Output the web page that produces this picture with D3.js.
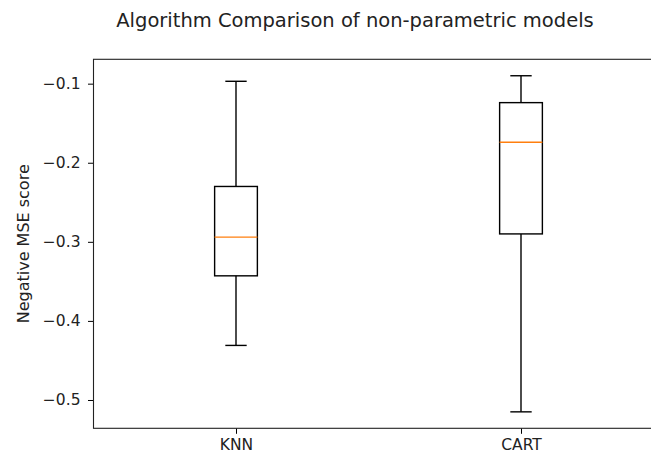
<!DOCTYPE html>
<html>
<head>
<meta charset="utf-8">
<script src="https://cdn.jsdelivr.net/npm/d3@7"></script>
<style>
  html, body { margin: 0; padding: 0; background: #fff; }
  svg { display: block; }
  svg text { font-family: "DejaVu Sans", sans-serif; }
</style>
</head>
<body>
<svg id="chart" width="651" height="455"></svg>
<script>
// Box statistics for each model (negative MSE from cross-validation)
const models      = ["KNN", "CART"];
const whiskerLow  = [-0.431, -0.515];
const quartile1   = [-0.343, -0.290];
const medians     = [-0.294, -0.174];
const quartile3   = [-0.230, -0.124];
const whiskerHigh = [-0.097, -0.090];
const yTicks      = [-0.1, -0.2, -0.3, -0.4, -0.5];

const margin = { left: 93.5, top: 59.3, bottom: 428.3, right: 663.5 };
const FONT = "DejaVu Sans";

const svg = d3.select("#chart");

const x = d3.scaleLinear().domain([0.5, 2.5]).range([margin.left, margin.right]);
const y = d3.scaleLinear().domain([-0.5358, -0.0692]).range([margin.bottom, margin.top]);

const boxHalf = 0.075;   // box width 0.15 in data units
const capHalf = boxHalf / 2;

const stats = models.map((m, i) => ({
  name: m, pos: i + 1,
  lo: whiskerLow[i], q1: quartile1[i], med: medians[i], q3: quartile3[i], hi: whiskerHigh[i]
}));

const g = svg.append("g");

// whiskers
g.selectAll(null).data(stats).join("line")
  .attr("x1", d => x(d.pos)).attr("x2", d => x(d.pos))
  .attr("y1", d => y(d.q1)).attr("y2", d => y(d.lo))
  .attr("stroke", "#000").attr("stroke-width", 1.4);
g.selectAll(null).data(stats).join("line")
  .attr("x1", d => x(d.pos)).attr("x2", d => x(d.pos))
  .attr("y1", d => y(d.q3)).attr("y2", d => y(d.hi))
  .attr("stroke", "#000").attr("stroke-width", 1.4);

// caps
["lo", "hi"].forEach(k => {
  g.selectAll(null).data(stats).join("line")
    .attr("x1", d => x(d.pos - capHalf)).attr("x2", d => x(d.pos + capHalf))
    .attr("y1", d => y(d[k])).attr("y2", d => y(d[k]))
    .attr("stroke", "#000").attr("stroke-width", 1.4);
});

// boxes
g.selectAll(null).data(stats).join("rect")
  .attr("x", d => x(d.pos - boxHalf))
  .attr("width", d => x(d.pos + boxHalf) - x(d.pos - boxHalf))
  .attr("y", d => y(d.q3))
  .attr("height", d => y(d.q1) - y(d.q3))
  .attr("fill", "none").attr("stroke", "#000").attr("stroke-width", 1.4);

// medians
g.selectAll(null).data(stats).join("line")
  .attr("x1", d => x(d.pos - boxHalf)).attr("x2", d => x(d.pos + boxHalf))
  .attr("y1", d => y(d.med)).attr("y2", d => y(d.med))
  .attr("stroke", "#ff7f0e").attr("stroke-width", 1.4);

// axes
const yAxis = d3.axisLeft(y).tickValues(yTicks).tickSize(5.5).tickPadding(7.5)
  .tickSizeOuter(0).tickFormat(d => d3.format(".1f")(d));
const xAxis = d3.axisBottom(x).tickValues(stats.map(d => d.pos)).tickSize(5.5).tickPadding(5)
  .tickSizeOuter(0).tickFormat((d, i) => models[i]);

const gy = svg.append("g").attr("transform", `translate(${margin.left},0)`).call(yAxis);
const gx = svg.append("g").attr("transform", `translate(0,${margin.bottom})`).call(xAxis);
[gx, gy].forEach(a => {
  a.attr("font-family", FONT).attr("font-size", 15.5);
  a.select(".domain").remove();
  a.selectAll(".tick line").attr("stroke", "#000").attr("stroke-width", 1);
  a.selectAll(".tick text").attr("fill", "#222");
});

// spines (left, top, bottom; right side lies beyond the view)
svg.append("rect")
  .attr("x", margin.left).attr("y", margin.top)
  .attr("width", margin.right - margin.left).attr("height", margin.bottom - margin.top)
  .attr("fill", "none").attr("stroke", "#222").attr("stroke-width", 1.1);

// axis label
svg.append("text")
  .attr("transform", `translate(23,${(margin.top + margin.bottom) / 2}) rotate(-90)`)
  .attr("text-anchor", "middle").attr("dominant-baseline", "central")
  .attr("font-family", FONT).attr("font-size", 16).attr("fill", "#222")
  .text("Negative MSE score");

// title
svg.append("text")
  .attr("x", 355).attr("y", 26.5)
  .attr("text-anchor", "middle")
  .attr("font-family", FONT).attr("font-size", 19.5).attr("fill", "#222")
  .text("Algorithm Comparison of non-parametric models");
</script>
</body>
</html>
